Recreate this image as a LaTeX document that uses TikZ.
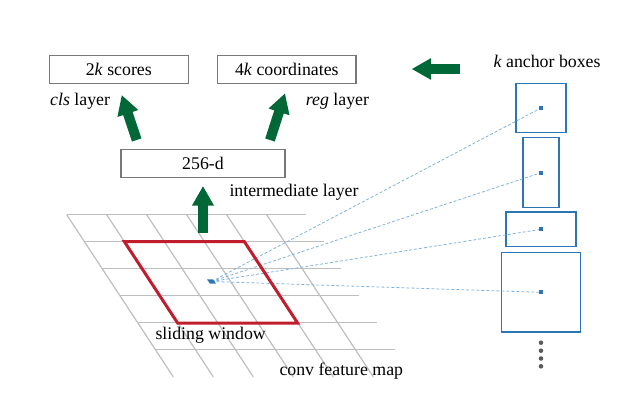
\documentclass[tikz,border=0pt]{standalone}
\usepackage{fontspec}
\setmainfont{Liberation Serif}
\usetikzlibrary{arrows.meta}
\usetikzlibrary{positioning}
\definecolor{arrowgreen}{RGB}{0,104,55}
\definecolor{windowred}{RGB}{192,30,45}
\definecolor{anchorblue}{RGB}{46,117,182}
\definecolor{dashblue}{RGB}{130,178,220}
\definecolor{gridgray}{RGB}{190,190,190}
\definecolor{boxgray}{RGB}{120,120,120}
\definecolor{dotgray}{RGB}{90,90,90}
\tikzset{
	layerbox/.style={draw=boxgray, line width=1.2pt, minimum height=27.6pt, inner sep=0pt, font=\fontsize{17.8}{20}\selectfont},
	lbl/.style={inner sep=0pt, font=\fontsize{17.8}{20}\selectfont},
	bigarrow/.style={draw=arrowgreen, line width=10pt, -{Triangle[length=19.5pt,width=20.5pt,fill=arrowgreen]}},
	gridline/.style={draw=gridgray, line width=1.2pt},
	anchorbox/.style={draw=anchorblue, line width=1.4pt, inner sep=0pt},
	anchorline/.style={draw=dashblue, line width=0.8pt, dash pattern=on 3pt off 2pt},
}
\begin{document}
\begin{tikzpicture}[x=1pt, y=-1pt]
	\useasboundingbox (0,0) rectangle (623,406);
	
	% conv feature map
	\foreach \i in {0,...,5}
		\draw[gridline] (66.7+17.7*\i,214.7+27*\i) -- ++(239.3,0);
	\foreach \i in {0,...,5}
		\draw[gridline] (66.7+40*\i,214.7) -- ++(106.5,162);
	\node[lbl, anchor=base west] (maplabel) at (279.3,375) {conv feature map};
	
	% anchor boxes
	\node[anchorbox, minimum width=50pt, minimum height=49.4pt] (a1) at (541,108) {};
	\node[anchorbox, minimum width=35.7pt, minimum height=70pt] (a2) at (541,172.7) {};
	\node[anchorbox, minimum width=70pt, minimum height=34.7pt] (a3) at (541,229.3) {};
	\node[anchorbox, minimum width=79.4pt, minimum height=79.3pt] (a4) at (541,292.3) {};
	\node[lbl, anchor=base west] (anchorlabel) at (493.3,67.3) {\textit{k} anchor boxes};
	\foreach \y in {342.7,350.7,358.5,366.3}
		\fill[dotgray] (541,\y) circle (2.3);
	
	% window centre and its lines to the anchors
	\coordinate (ctr) at (211.5,281.5);
	\foreach \a in {a1,a2,a3,a4}
		\draw[anchorline] (ctr) -- (\a.center);
	\foreach \a in {a1,a2,a3,a4}
		\fill[anchorblue] ([shift={(-2,-2)}]\a.center) rectangle ++(4,4);
	\fill[anchorblue] (207,279.3) -- (213,279.3) -- (216,283.7) -- (210,283.7) -- cycle;
	
	% sliding window
	\draw[windowred, line width=3pt] (124.4,241.7) -- (244.4,241.7) -- (297.6,323) -- (177.6,323) -- cycle;
	\node[lbl, anchor=base west] (windowlabel) at (155.3,339.5) {sliding window};
	
	% layers
	\node[layerbox, minimum width=139pt] (cls) at (118.8,69.5) {2\textit{k} scores};
	\node[layerbox, minimum width=138.3pt] (reg) at (286.8,69.5) {4\textit{k} coordinates};
	\node[layerbox, minimum width=164pt, minimum height=28pt] (hidden) at (203,163.3) {256-d};
	\node[lbl, anchor=base west] (clslabel) at (50,106) {\textit{cls} layer};
	\node[lbl, anchor=base west] (reglabel) at (305.7,106) {\textit{reg} layer};
	\node[lbl, anchor=base west] (interlabel) at (229.3,196.7) {intermediate layer};
	
	% green arrows
	\coordinate (clsfoot) at (136.7,140);
	\coordinate (clstip) at (121.7,95);
	\coordinate (regfoot) at (270,140);
	\coordinate (regtip) at (285,93.3);
	\coordinate (winfoot) at (203,233.3);
	\coordinate (wintip) at (203,186);
	\coordinate (boxfoot) at (460,69);
	\coordinate (boxtip) at (411.7,69);
	\draw[bigarrow] (clsfoot) -- (clstip);
	\draw[bigarrow] (regfoot) -- (regtip);
	\draw[bigarrow] (winfoot) -- (wintip);
	\draw[bigarrow] (boxfoot) -- (boxtip);
\end{tikzpicture}
\end{document}
